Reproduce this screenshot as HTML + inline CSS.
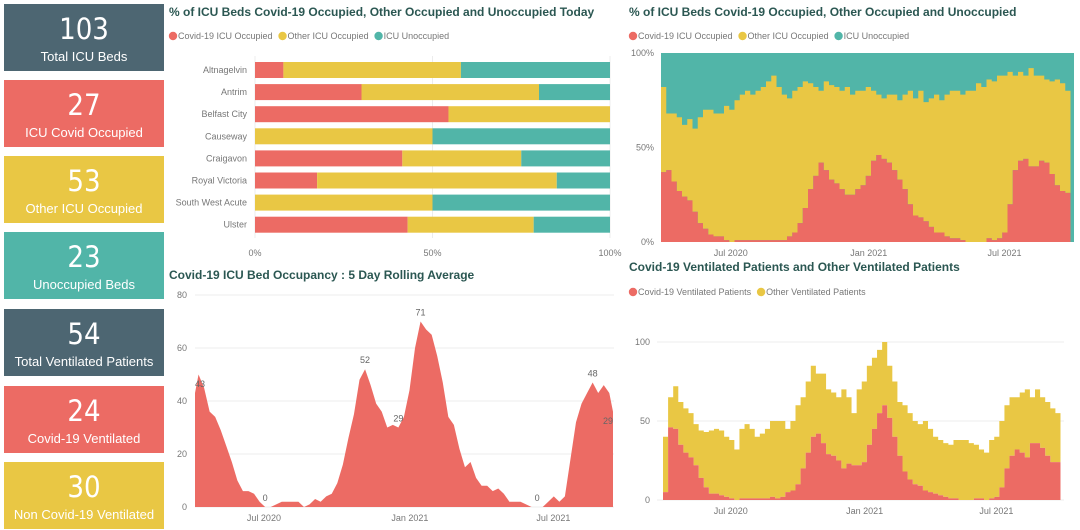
<!DOCTYPE html>
<html><head><meta charset="utf-8">
<style>
body{margin:0;width:1080px;height:530px;overflow:hidden;background:#fff;font-family:"Liberation Sans","DejaVu Sans",sans-serif;position:relative}
.card{position:absolute;left:4px;width:160px;height:67px;color:#fff;text-align:center}
.card .v{font-size:29px;margin-top:8px;line-height:34px;font-family:"DejaVu Sans Condensed","DejaVu Sans",sans-serif}
.card .l{font-size:13px;line-height:18px;margin-top:2px;white-space:nowrap}
.dk{background:#4d6672}.rd{background:#ec6b64}.yl{background:#e9c744}.tl{background:#51b5a8}
svg{position:absolute;left:0;top:0}
</style></head><body>
<div class="card dk" style="top:4px"><div class="v">103</div><div class="l">Total ICU Beds</div></div>
<div class="card rd" style="top:80px"><div class="v">27</div><div class="l">ICU Covid Occupied</div></div>
<div class="card yl" style="top:156px"><div class="v">53</div><div class="l">Other ICU Occupied</div></div>
<div class="card tl" style="top:232px"><div class="v">23</div><div class="l">Unoccupied Beds</div></div>
<div class="card dk" style="top:309px"><div class="v">54</div><div class="l">Total Ventilated Patients</div></div>
<div class="card rd" style="top:386px"><div class="v">24</div><div class="l">Covid-19 Ventilated</div></div>
<div class="card yl" style="top:462px"><div class="v">30</div><div class="l">Non Covid-19 Ventilated</div></div>
<svg id="s" width="1080" height="530" xmlns="http://www.w3.org/2000/svg"></svg>
<script>
const hospitals=["Altnagelvin","Antrim","Belfast City","Causeway","Craigavon","Royal Victoria","South West Acute","Ulster"];
const hospCovid=[8,30,54.5,0,41.5,17.5,0,43];
const hospOther=[50,50,45.5,50,33.5,67.5,50,35.5];
const hospUnocc=[42,20,0,50,25,15,50,21.5];
const pctTicks=["0%","50%","100%"];
const covidPct=[37,38,32,27,24,22,16,10,7,4,3,3,1,0,1,1,1,1,1,1,1,1,1,1,3,5,10,18,28,35,42,38,33,31,28,25,25,28,30,35,43,46,44,42,38,33,28,20,14,13,11,8,5,5,3,2,2,1,0,0,0,0,2,1,2,5,20,38,43,44,40,40,43,42,36,30,27,26];
const otherPct=[45,30,36,39,38,43,44,56,63,66,65,65,71,70,74,77,79,77,79,81,84,87,81,77,73,75,72,67,56,47,38,47,50,51,52,57,53,52,50,47,37,32,32,36,40,42,50,60,62,67,63,68,73,70,75,78,78,77,80,80,84,82,84,84,86,83,70,50,47,44,52,48,45,44,49,56,57,54];
const covidICU=[43,50,45,36,34,29,23,17,10,6,6,5,2,0,0,1,2,2,2,2,0,1,3,2,4,5,9,16,26,35,48,52,46,39,36,30,31,30,34,44,60,70,67,65,57,47,34,31,22,15,17,11,8,8,6,7,5,2,2,2,1,0,0,0,2,4,2,4,18,32,39,43,47,43,46,43,36,29];
const icuLabels=[[0,"43"],[13,"0"],[31,"52"],[37,"29"],[41,"71"],[62,"0"],[72,"48"],[77,"29"]];
const ventCovid=[5,46,45,35,30,27,22,14,8,4,4,3,2,1,0,1,1,1,1,1,1,2,1,2,5,6,10,20,30,40,42,36,29,28,25,20,23,22,22,24,35,45,55,60,52,40,28,18,13,10,9,6,5,4,3,2,1,1,0,0,0,1,1,0,1,2,8,20,28,32,30,27,36,36,33,28,24,24];
const ventOther=[35,19,27,27,28,28,26,30,35,40,41,41,38,37,32,44,47,44,39,41,44,48,49,48,40,44,50,45,45,45,38,44,41,40,40,50,42,33,48,51,50,45,40,40,33,35,34,42,42,40,39,44,40,36,35,34,34,37,38,38,36,34,31,30,37,38,42,40,37,33,38,43,29,34,32,34,34,31];
const dateTicks=[["Jul 2020",93],["Jan 2021",277],["Jul 2021",458]];

const S=document.getElementById('s'),NS="http://www.w3.org/2000/svg";
const RED="#ec6b64",YEL="#e9c744",TEAL="#51b5a8",GRID="#ececec",TXT="#777";
function mk(t,a,txt){const e=document.createElementNS(NS,t);for(const k in a)e.setAttribute(k,a[k]);if(txt!==undefined)e.textContent=txt;S.appendChild(e);return e;}
function title(x,y,t,n){const e=mk('text',{x:x,y:y,'font-size':12,'font-weight':'bold',fill:'#2b5752'},t);

}
function legend(x,y,items,n){let cx=x;items.forEach(it=>{const c=mk('circle',{cx:cx+4,cy:y-3,r:4.2,fill:it[1]});


const t=mk('text',{x:cx+9,y:y,'font-size':9,fill:TXT},it[0]);


cx+=9+t.getComputedTextLength()+6;});}
// ---- bar chart
title(169,16,"% of ICU Beds Covid-19 Occupied, Other Occupied and Unoccupied Today","bar-chart-title");
legend(169,39,[["Covid-19 ICU Occupied",RED],["Other ICU Occupied",YEL],["ICU Unoccupied",TEAL]],"bar-legend");
const bx=v=>255+v/100*355;
[0,50,100].forEach((v,i)=>{mk('line',{x1:bx(v),x2:bx(v),y1:56,y2:238,stroke:GRID});
const t=mk('text',{x:bx(v),y:256,'font-size':9,fill:TXT,'text-anchor':'middle'},pctTicks[i]);

});
hospitals.forEach((h,i)=>{const cy=70+i*22.1;
const t=mk('text',{x:247,y:cy+3,'font-size':9,fill:TXT,'text-anchor':'end'},h);


let acc=0;[[hospCovid[i],RED],[hospOther[i],YEL],[hospUnocc[i],TEAL]].forEach(s=>{if(s[0]>0){const r=mk('rect',{x:bx(acc),y:cy-8,width:bx(acc+s[0])-bx(acc),height:16,fill:s[1]});

}acc+=s[0];});});
// step area helper
function stepPath(vals,base,xf,yf,x0,x1){let d='';vals.forEach((v,i)=>{let a=Math.max(xf(i*7),x0),b=Math.min(xf(i*7+7),x1);if(b<=a)return;const yb=yf(base?base[i]:0),yt=yf((base?base[i]:0)+v);d+=`M${a},${yb}L${a},${yt}L${b},${yt}L${b},${yb}Z`;});return d;}
// ---- top right stacked %
title(629,16,"% of ICU Beds Covid-19 Occupied, Other Occupied and Unoccupied","pct-area-title");
legend(629,39,[["Covid-19 ICU Occupied",RED],["Other ICU Occupied",YEL],["ICU Unoccupied",TEAL]],"pct-legend");
const tx=d=>661+d*0.75,ty=v=>242-v*1.89;
let r=mk('rect',{x:661,y:53,width:413,height:189,fill:TEAL});


let p=mk('path',{d:stepPath(otherPct,covidPct,tx,ty,661,1074),fill:YEL});


p=mk('path',{d:stepPath(covidPct,null,tx,ty,661,1074),fill:RED});


[[0,"0%"],[50,"50%"],[100,"100%"]].forEach(a=>{const t=mk('text',{x:654,y:ty(a[0])+3,'font-size':9,fill:TXT,'text-anchor':'end'},a[1]);

});
dateTicks.forEach(a=>{const t=mk('text',{x:tx(a[1]),y:256,'font-size':9,fill:TXT,'text-anchor':'middle'},a[0]);

});
// ---- bottom left rolling avg
title(169,279,"Covid-19 ICU Bed Occupancy : 5 Day Rolling Average","rolling-title");
const lx=d=>190.2+d*0.793,ly=v=>507-v*2.65;
[0,20,40,60,80].forEach(v=>{mk('line',{x1:195,x2:614,y1:ly(v),y2:ly(v),stroke:GRID});
const t=mk('text',{x:187,y:ly(v)+3,'font-size':9,fill:TXT,'text-anchor':'end'},String(v));

});
let d=`M195,${ly(0)}`;covidICU.forEach((v,i)=>{const x=Math.min(Math.max(lx(i*7+3.5),195),613);d+=`L${x},${ly(v)}`;});d+=`L613,${ly(0)}Z`;
p=mk('path',{d:d,fill:RED});


icuLabels.forEach(a=>{const t=mk('text',{x:Math.min(Math.max(lx(a[0]*7+3.5),200),608),y:ly(covidICU[a[0]])-6,'font-size':9,fill:'#666','text-anchor':'middle'},a[1]);

});
dateTicks.forEach(a=>{const t=mk('text',{x:lx(a[1]),y:521,'font-size':9,fill:TXT,'text-anchor':'middle'},a[0]);

});
// ---- bottom right ventilated
title(629,271,"Covid-19 Ventilated Patients and Other Ventilated Patients","vent-title");
legend(629,295,[["Covid-19 Ventilated Patients",RED],["Other Ventilated Patients",YEL]],"vent-legend");
const vx=d=>663+d*0.728,vy=v=>500-v*1.58;
[0,50,100].forEach(v=>{mk('line',{x1:657,x2:1064,y1:vy(v),y2:vy(v),stroke:GRID});
const t=mk('text',{x:650,y:vy(v)+3,'font-size':9,fill:TXT,'text-anchor':'end'},String(v));

});
p=mk('path',{d:stepPath(ventOther,ventCovid,vx,vy,657,1064),fill:YEL});


p=mk('path',{d:stepPath(ventCovid,null,vx,vy,657,1064),fill:RED});


dateTicks.forEach(a=>{const t=mk('text',{x:vx(a[1]),y:514,'font-size':9,fill:TXT,'text-anchor':'middle'},a[0]);

});
</script>
</body></html>
